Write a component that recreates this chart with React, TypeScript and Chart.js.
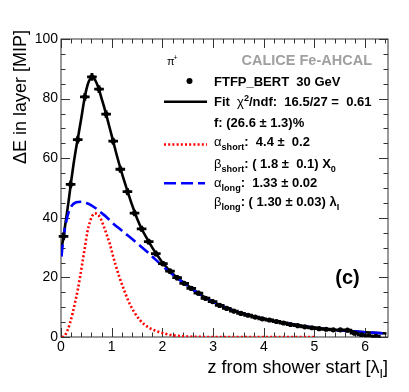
import React, { useEffect, useRef } from "react";
import { Chart, registerables } from "chart.js";
Chart.register(...registerables);

const FONT = '"Liberation Sans", Arial, Helvetica, sans-serif';

// ---- data points (FTFP_BERT 30 GeV) ----
const dataZ = [0.05, 0.19, 0.33, 0.47, 0.61, 0.75, 0.89, 1.03, 1.17, 1.31, 1.45, 1.59, 1.73, 1.87, 2.01, 2.15, 2.29, 2.43, 2.57, 2.71, 2.85, 2.99, 3.13, 3.27, 3.41, 3.55, 3.69, 3.83, 3.97, 4.11, 4.25, 4.39, 4.53, 4.67, 4.81, 4.95, 5.09, 5.23, 5.37, 5.51, 5.65, 5.79, 5.93, 6.07, 6.21];
const dataE = [33.8, 51.2, 66.2, 80.6, 87.3, 83.2, 74.8, 65.7, 56.3, 48.8, 41.6, 36.3, 32.0, 28.0, 24.6, 22.1, 19.9, 18.0, 16.3, 14.7, 13.0, 11.9, 10.6, 9.6, 8.7, 7.9, 7.3, 6.7, 6.1, 5.7, 5.2, 4.7, 4.2, 3.8, 3.4, 3.1, 2.8, 2.6, 2.4, 2.4, 2.3, 1.3, 0.7, 0.4, 0.2];
const dataErr = [1.3, 1.3, 1.3, 1.3, 1.3, 1.3, 1.3, 1.2, 1.2, 1.2, 1.1, 1.0, 1.0, 1.0, 0.9, 0.9, 0.9, 0.8, 0.8, 0.8, 0.8, 0.7, 0.7, 0.7, 0.7, 0.7, 0.6, 0.6, 0.6, 0.6, 0.6, 0.6, 0.6, 0.6, 0.6, 0.6, 0.6, 0.6, 0.6, 0.6, 0.6, 0.6, 0.6, 0.6, 0.6];
const binHalfWidth = 0.095;

// ---- total fit ----
const fitZ = [0.015, 0.05, 0.1, 0.15, 0.2, 0.25, 0.3, 0.35, 0.4, 0.45, 0.5, 0.55, 0.6, 0.65, 0.7, 0.75, 0.8, 0.85, 0.9, 0.95, 1.0, 1.1, 1.2, 1.3, 1.4, 1.5, 1.6, 1.7, 1.8, 1.9, 2.0, 2.25, 2.5, 2.75, 3.0, 3.25, 3.5, 3.75, 4.0, 4.25, 4.5, 4.75, 5.0, 5.25, 5.5, 5.75, 6.0, 6.2, 6.42];
const fitE = [30.0, 33.8, 39.6, 45.6, 52.2, 58.3, 63.6, 68.4, 73.4, 78.7, 83.0, 85.8, 87.0, 86.8, 85.3, 83.0, 80.1, 77.2, 74.1, 70.8, 67.6, 61.0, 55.0, 49.6, 44.4, 39.8, 36.0, 32.9, 30.0, 27.4, 25.0, 20.5, 17.3, 14.2, 11.8, 9.9, 8.3, 7.1, 6.1, 5.2, 4.4, 3.7, 3.1, 2.6, 2.2, 1.9, 1.6, 1.4, 1.2];

// ---- short component ----
const shortZ = [0.02, 0.06, 0.13, 0.18, 0.23, 0.28, 0.33, 0.38, 0.42, 0.47, 0.52, 0.57, 0.62, 0.67, 0.72, 0.78, 0.84, 0.9, 0.96, 1.02, 1.08, 1.15, 1.25, 1.35, 1.45, 1.55, 1.65, 1.75, 1.85, 1.95, 2.05, 2.2, 2.4, 2.6, 2.8, 3.0, 5.0];
const shortE = [0, 0.2, 2.3, 4.8, 8.0, 11.8, 15.8, 20.5, 24.7, 30.0, 35.2, 38.6, 40.7, 41.5, 41.2, 39.8, 37.3, 34.4, 31.4, 27.6, 24.0, 20.2, 15.5, 11.3, 8.2, 5.8, 4.1, 3.0, 2.2, 1.6, 1.1, 0.6, 0.25, 0.1, 0.03, 0, 0];

// ---- long component ----
const longZ = [0.01, 0.03, 0.06, 0.1, 0.15, 0.2, 0.3, 0.4, 0.5, 0.6, 0.7, 0.8, 0.9, 1.0, 1.12, 1.25, 1.5, 1.75, 2.0, 2.25, 2.5, 2.75, 3.0, 3.25, 3.5, 3.75, 4.0, 4.25, 4.5, 4.75, 5.0, 5.25, 5.5, 5.75, 6.0, 6.2, 6.42];
const longE = [27.0, 30.5, 34.5, 38.5, 41.8, 43.8, 45.2, 45.4, 45.0, 44.2, 43.0, 41.6, 40.2, 38.5, 36.8, 35.0, 31.5, 27.8, 23.9, 20.3, 17.1, 14.2, 11.8, 9.9, 8.3, 7.1, 6.1, 5.2, 4.4, 3.7, 3.1, 2.6, 2.2, 1.9, 1.6, 1.4, 1.2];

// ---- axes ----
const xMin = 0;
const xMax = 6.45;
const yMin = 0;
const yMax = 100;
const xTickValues = [0, 1, 2, 3, 4, 5, 6];
const yTickValues = [0, 20, 40, 60, 80, 100];

// ---- texts ----
type Seg = { t: string; k?: "sub" | "sup"; g?: boolean };
const experimentLabel = "CALICE Fe-AHCAL";
const particleLabel = "π";
const panelLabel = "(c)";
const legendRows: Seg[][] = [
  [{ t: "FTFP_BERT  30 GeV" }],
  [{ t: "Fit  " }, { t: "χ", g: true }, { t: "2", k: "sup" }, { t: "/ndf:  16.5/27 =  0.61" }],
  [{ t: "f: (26.6 ± 1.3)%" }],
  [{ t: "α", g: true }, { t: "short", k: "sub" }, { t: ":  4.4 ±  0.2" }],
  [{ t: "β", g: true }, { t: "short", k: "sub" }, { t: ": ( 1.8 ±  0.1) X" }, { t: "0", k: "sub" }],
  [{ t: "α", g: true }, { t: "long", k: "sub" }, { t: ":  1.33 ± 0.02" }],
  [{ t: "β", g: true }, { t: "long", k: "sub" }, { t: ": ( 1.30 ± 0.03) λ" }, { t: "I", k: "sub" }],
];
const xTitle: Seg[] = [{ t: "z from shower start [λ", g: true }, { t: "I", k: "sub", g: true }, { t: "]", g: true }];
const yTitle = "ΔE in layer [MIP]";

function drawRich(ctx: CanvasRenderingContext2D, x: number, y: number, segs: Seg[], size: number, bold: boolean, measureOnly = false) {
  let cx = x;
  for (const s of segs) {
    const sz = s.k ? size * 0.7 : size;
    const weight = bold && !s.g ? "bold" : "normal";
    ctx.font = `${weight} ${sz}px ${FONT}`;
    const dy = s.k === "sub" ? size * 0.3 : s.k === "sup" ? -size * 0.42 : 0;
    if (!measureOnly) ctx.fillText(s.t, cx, y + dy);
    cx += ctx.measureText(s.t).width;
  }
  return cx - x;
}

const framePlugin = {
  id: "rootFrame",
  beforeDatasetsDraw(chart: any) {
    const { ctx, chartArea: a, scales } = chart;
    const xs = scales.x;
    const ys = scales.y;
    ctx.save();
    ctx.strokeStyle = "#333";
    ctx.lineWidth = 1;
    ctx.strokeRect(a.left, a.top, a.right - a.left, a.bottom - a.top);
    ctx.beginPath();
    for (let i = 0; i <= 40; i++) {
      const v = i * 0.2;
      if (v > xMax) break;
      const px = Math.round(xs.getPixelForValue(v)) + 0.5;
      const len = i % 5 === 0 ? 9 : 4.5;
      ctx.moveTo(px, a.bottom);
      ctx.lineTo(px, a.bottom - len);
      ctx.moveTo(px, a.top);
      ctx.lineTo(px, a.top + len);
    }
    for (let v = yMin; v <= yMax; v += 5) {
      const py = Math.round(ys.getPixelForValue(v)) + 0.5;
      const len = v % 20 === 0 ? 9 : 4.5;
      ctx.moveTo(a.left, py);
      ctx.lineTo(a.left + len, py);
      ctx.moveTo(a.right, py);
      ctx.lineTo(a.right - len, py);
    }
    ctx.stroke();
    ctx.restore();
  },
};

const errorBarPlugin = {
  id: "errorBars",
  afterDatasetsDraw(chart: any) {
    const { ctx, scales } = chart;
    const xs = scales.x;
    const ys = scales.y;
    ctx.save();
    ctx.strokeStyle = "#000";
    ctx.lineWidth = 2.8;
    ctx.beginPath();
    for (let i = 0; i < dataZ.length; i++) {
      const z = dataZ[i];
      const e = dataE[i];
      const px = xs.getPixelForValue(z);
      const py = ys.getPixelForValue(e);
      ctx.moveTo(xs.getPixelForValue(z - binHalfWidth), py);
      ctx.lineTo(xs.getPixelForValue(z + binHalfWidth), py);
      ctx.moveTo(px, ys.getPixelForValue(Math.max(0, e - dataErr[i])));
      ctx.lineTo(px, ys.getPixelForValue(e + dataErr[i]));
    }
    ctx.stroke();
    ctx.restore();
  },
};

const labelPlugin = {
  id: "labels",
  afterDraw(chart: any) {
    const { ctx, chartArea: a } = chart;
    ctx.save();
    ctx.fillStyle = "#000";
    ctx.textBaseline = "alphabetic";
    ctx.textAlign = "left";

    ctx.fillStyle = "#a0a0a0";
    ctx.font = `bold 14.5px ${FONT}`;
    ctx.textAlign = "right";
    ctx.fillText(experimentLabel, 372, 65);
    ctx.textAlign = "left";

    ctx.fillStyle = "#000";
    ctx.font = `normal 11px ${FONT}`;
    ctx.fillText(particleLabel, 167, 65);
    ctx.font = `normal 7px ${FONT}`;
    ctx.fillText("+", 173.5, 60);

    ctx.beginPath();
    ctx.arc(189.5, 81, 3, 0, Math.PI * 2);
    ctx.fill();

    ctx.lineWidth = 2.5;
    ctx.strokeStyle = "#000";
    ctx.setLineDash([]);
    ctx.beginPath();
    ctx.moveTo(164, 101.7);
    ctx.lineTo(207, 101.7);
    ctx.stroke();

    ctx.strokeStyle = "#ff0000";
    ctx.setLineDash([2, 2.2]);
    ctx.beginPath();
    ctx.moveTo(164, 144.5);
    ctx.lineTo(207, 144.5);
    ctx.stroke();

    ctx.strokeStyle = "#0000ff";
    ctx.setLineDash([12, 5]);
    ctx.beginPath();
    ctx.moveTo(164, 183.3);
    ctx.lineTo(205, 183.3);
    ctx.stroke();
    ctx.setLineDash([]);

    const baselines = [85.7, 106, 127.3, 146, 168.3, 186.7, 206];
    ctx.fillStyle = "#000";
    legendRows.forEach((row, i) => drawRich(ctx, 214, baselines[i], row, 13, true));

    ctx.font = `bold 20px ${FONT}`;
    ctx.textAlign = "center";
    ctx.textBaseline = "middle";
    ctx.fillText(panelLabel, 347.5, 278);

    ctx.textAlign = "left";
    ctx.textBaseline = "alphabetic";
    const w = drawRich(ctx, 0, 0, xTitle, 18, false, true);
    drawRich(ctx, a.right - w, 373, xTitle, 18, false);

    ctx.save();
    ctx.translate(25.5, 30);
    ctx.rotate(-Math.PI / 2);
    ctx.font = `normal 18px ${FONT}`;
    ctx.textAlign = "right";
    ctx.fillText(yTitle, 0, 0);
    ctx.restore();

    ctx.restore();
  },
};

const pts = (xs: number[], ys: number[]) => xs.map((x, i) => ({ x, y: ys[i] }));

export default function App() {
  const ref = useRef<HTMLCanvasElement | null>(null);
  useEffect(() => {
    document.body.style.margin = "0";
    const canvas = ref.current;
    if (!canvas) return;
    const chart = new Chart(canvas, {
      type: "scatter",
      data: {
        datasets: [
          {
            label: "data",
            data: pts(dataZ, dataE),
            pointRadius: 2.6,
            pointBackgroundColor: "#000",
            pointBorderWidth: 0,
            showLine: false,
            order: 0,
          },
          {
            label: "long",
            data: pts(longZ, longE),
            showLine: true,
            borderColor: "#0000ff",
            borderWidth: 2.6,
            borderDash: [12, 5],
            pointRadius: 0,
            cubicInterpolationMode: "monotone",
            order: 1,
          },
          {
            label: "short",
            data: pts(shortZ, shortE),
            showLine: true,
            borderColor: "#ff0000",
            borderWidth: 2.6,
            borderDash: [2, 2.2],
            pointRadius: 0,
            cubicInterpolationMode: "monotone",
            order: 2,
          },
          {
            label: "fit",
            data: pts(fitZ, fitE),
            showLine: true,
            borderColor: "#000",
            borderWidth: 2.6,
            pointRadius: 0,
            cubicInterpolationMode: "monotone",
            order: 3,
          },
        ],
      },
      options: {
        animation: false,
        responsive: false,
        maintainAspectRatio: false,
        layout: { padding: { top: 39, right: 21, left: 0, bottom: 0 } },
        plugins: { legend: { display: false }, tooltip: { enabled: false } },
        scales: {
          x: {
            type: "linear",
            min: xMin,
            max: xMax,
            grid: { display: false, drawTicks: false },
            border: { display: false },
            ticks: { font: { size: 14, family: FONT }, color: "#000", padding: 2, maxRotation: 0, autoSkip: false, includeBounds: false },
            afterBuildTicks: (s: any) => {
              s.ticks = xTickValues.map((v) => ({ value: v }));
            },
            afterFit: (s: any) => {
              s.height = 55;
            },
          },
          y: {
            type: "linear",
            min: yMin,
            max: yMax,
            grid: { display: false, drawTicks: false },
            border: { display: false },
            ticks: { font: { size: 14, family: FONT }, color: "#000", padding: 3, autoSkip: false, includeBounds: false },
            afterBuildTicks: (s: any) => {
              s.ticks = yTickValues.map((v) => ({ value: v }));
            },
            afterFit: (s: any) => {
              s.width = 61;
            },
          },
        },
      } as any,
      plugins: [framePlugin, errorBarPlugin, labelPlugin],
    });
    return () => chart.destroy();
  }, []);
  return (
    <div style={{ width: 409, height: 392 }}>
      <canvas ref={ref} width={409} height={392} style={{ display: "block" }} />
    </div>
  );
}
